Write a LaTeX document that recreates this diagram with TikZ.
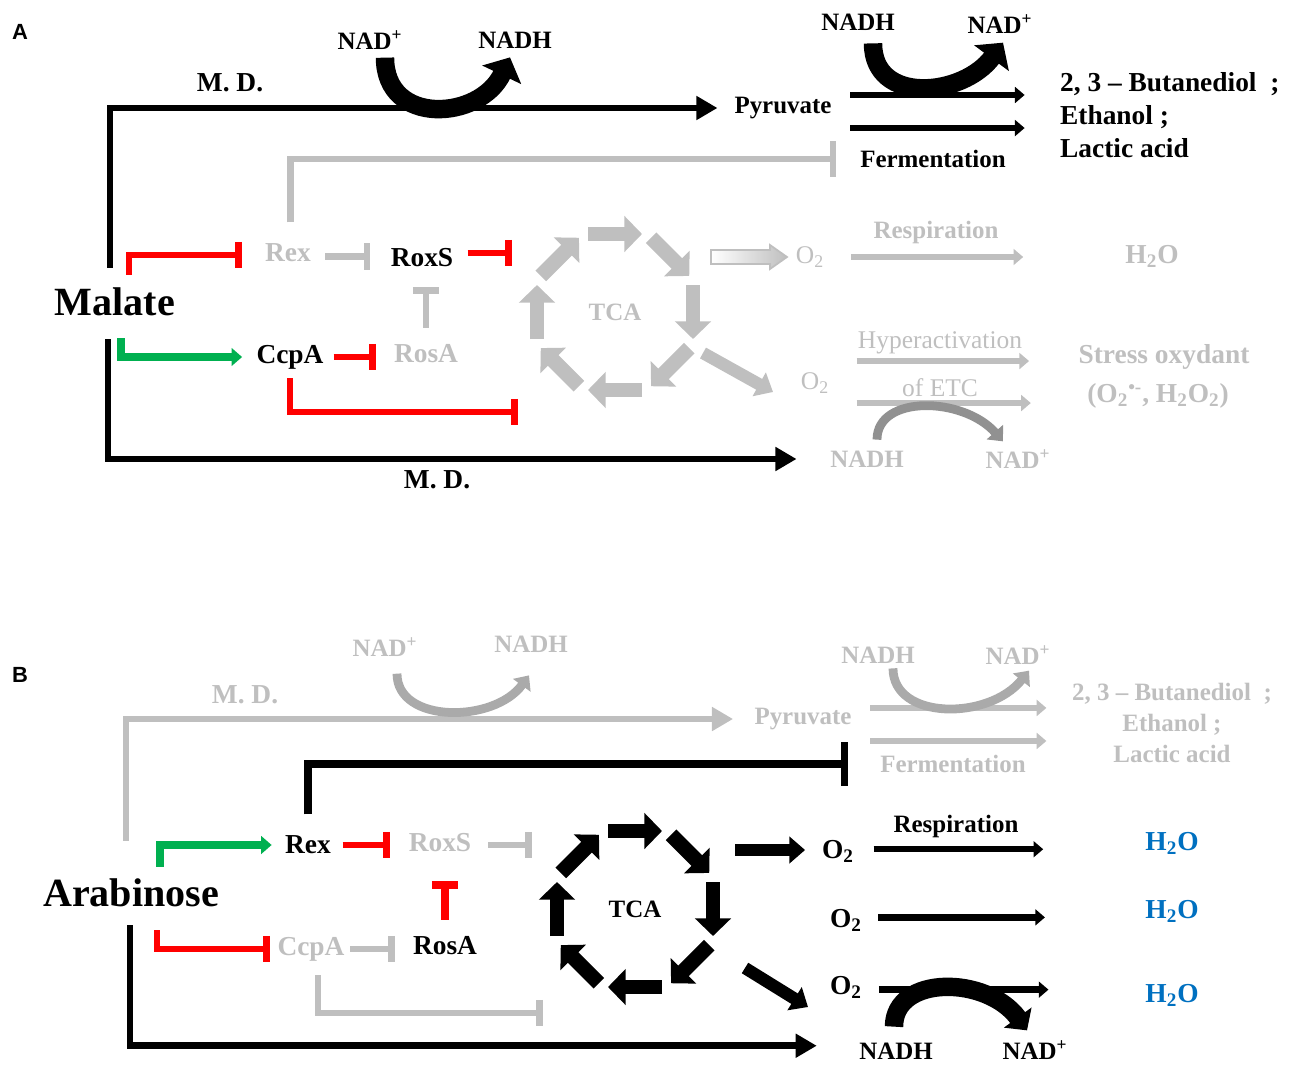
\documentclass[tikz,border=0pt]{standalone}
\usepackage{fontspec}
\setmainfont{Liberation Serif}
\newfontfamily\panelfont{Liberation Sans}
\usepackage{tikz}
\usetikzlibrary{arrows.meta,calc,positioning}
\definecolor{lgray}{RGB}{191,191,191}
\definecolor{mgray}{RGB}{170,170,170}
\definecolor{dgray}{RGB}{145,145,145}
\definecolor{okgreen}{RGB}{0,176,80}
\definecolor{inhred}{RGB}{255,0,0}
\definecolor{h2oblue}{RGB}{0,112,192}
\tikzset{lbl/.style={
            font=\bfseries\fontsize{15.6}{18}\selectfont,
            inner sep=1pt
        },
        sml/.style={
            font=\bfseries\fontsize{14.2}{16}\selectfont,
            inner sep=1pt
        },
        big/.style={
            font=\bfseries\fontsize{22.8}{26}\selectfont,
            inner sep=1pt
        },
        reg/.style={
            font=\fontsize{14.5}{17}\selectfont,
            inner sep=1pt
        },
        panel/.style={
            font=\panelfont\bfseries\fontsize{12.5}{14}\selectfont
        },
        faded/.style={
            text=lgray
        },
        flow/.style={
            line width=3.8pt,
            -{Triangle[width=13pt,length=12pt]}
        },
        thinarr/.style={
            line width=3.6pt,
            -{Triangle[width=9pt,length=5.5pt]}
        },
        act/.style={
            draw=okgreen,
            line width=4.5pt,
            -{Triangle[width=10pt,length=6pt]}
        },
        inh/.style={
            line width=3.8pt,
            -{Bar[width=15pt]}
        },
        ring/.style={
            line width=8.5pt,
            -{Triangle[width=20pt,length=10pt]}
        },
        spoke/.style={
            line width=7pt,
            -{Triangle[width=15pt,length=9pt]}
        },
        curl/.style={
            line width=10.5pt,
            -{Triangle[width=24pt,length=11pt]}
        },
        curlthin/.style={
            line width=5pt,
            -{Triangle[width=12pt,length=7pt]}
        }
    }
\begin{document}
\begin{tikzpicture}[x=0.02cm,y=-0.02cm]
        \useasboundingbox (0,0) rectangle (1290,1064);
        \node[panel] at (20,32) (labA) {A};
        \node[big] at (115,302) (malA) {Malate};
        \node[sml] at (370,40) (nadpA) {NAD\textsuperscript{+}};
        \node[sml] at (515,40) (nadhA) {NADH};
        \node[lbl] at (230,83) (mdA1) {M. D.};
        \node[sml] at (783,108) (pyrA) {Pyruvate};
        \node[sml] at (858,22) (nadhA2) {NADH};
        \node[sml] at (1000,24) (nadpA2) {NAD\textsuperscript{+}};
        \node[lbl, anchor=west, align=left, font=\bfseries\fontsize{15.6}{18.8}\selectfont] at (1058,115) (prodA) {2, 3 -- Butanediol\ \ ;\\Ethanol ;\\Lactic acid};
        \node[sml] at (933,159) (fermA) {Fermentation};
        \node[lbl, faded] at (288,253) (rexA) {Rex};
        \node[lbl] at (422,258) (roxsA) {RoxS};
        \node[lbl] at (290,357) (ccpaA) {CcpA};
        \node[lbl, faded] at (426,354) (rosaA) {RosA};
        \node[sml, faded] at (615,312) (tcaA) {TCA};
        \node[lbl] at (437,480) (mdA2) {M. D.};
        \node[reg, faded] at (810,257) (o2A1) {O\textsubscript{2}};
        \node[sml, faded] at (936,233) (respA) {Respiration};
        \node[lbl, faded] at (1152,256) (h2oA) {H\textsubscript{2}O};
        \node[reg, faded] at (815,383) (o2A2) {O\textsubscript{2}};
        \node[reg, faded] at (940,343) (hypA) {Hyperactivation};
        \node[reg, faded] at (940,388) (etcA) {of ETC};
        \node[sml, faded] at (867,459) (nadhA3) {NADH};
        \node[sml, faded] at (1018,459) (nadpA3) {NAD\textsuperscript{+}};
        \node[lbl, faded] at (1164,357) (stressA) {Stress oxydant};
        \node[lbl, faded] at (1158,396) (rosA) {(O\textsubscript{2}\textsuperscript{\textbullet-}, H\textsubscript{2}O\textsubscript{2})};
        \coordinate (tcaTopA) at (512,253);
        \coordinate (tcaBotA) at (518,412);
        \coordinate (tcaOutA1) at (711,257);
        \coordinate (tcaOutA2) at (703,353);
        \coordinate (o2InA) at (773,392);
        \draw[flow, shorten >=8.5pt] ($(malA.north)+(-5,-18)$) |- (pyrA.west);
        \draw[flow, shorten >=18pt] ($(malA.south)+(-7,21)$) |- (nadhA3.west);
        \draw[inh, draw=inhred] ($(malA.north)+(14,-11)$) |- ($(rexA.west)+(-21,2)$);
        \draw[inh, draw=lgray, shorten <=7pt, shorten >=10.5pt] ([yshift=-2pt]rexA.east) -- ([yshift=-2pt]rexA.east -| roxsA.west);
        \draw[inh, draw=inhred, shorten <=7pt] (roxsA.east |- tcaTopA) -- (tcaTopA);
        \draw[inh, draw=lgray, shorten <=8.5pt, shorten >=10pt] (rosaA.north) -- (rosaA.north |- roxsA.south);
        \draw[act, shorten >=7pt] ($(malA.south)+(6,20)$) |- (ccpaA.west);
        \draw[inh, draw=inhred, shorten <=4.5pt, shorten >=9pt] (ccpaA.east) -- (ccpaA.east -| rosaA.west);
        \draw[inh, draw=inhred, shorten <=4pt] (ccpaA.south) |- (tcaBotA);
        \draw[inh, draw=lgray, shorten <=11pt, shorten >=12.5pt, -{Bar[width=20pt]}] ([xshift=1.5pt]rexA.north) |- (fermA.west);
        \draw[curl] ($(nadpA.south)+(15,6)$) .. controls +(0,69) and +(-30,63) .. ($(nadhA.south)+(-5,7)$);
        \draw[thinarr, shorten <=9.5pt, shorten >=19pt] ([yshift=7.4pt]pyrA.east) -- ([yshift=7.4pt]pyrA.east -| prodA.west);
        \draw[thinarr, shorten <=9.5pt, shorten >=19pt] ([yshift=-11.4pt]pyrA.east) -- ([yshift=-11.4pt]pyrA.east -| prodA.west);
        \draw[curl] ($(nadhA2.south)+(15,11)$) .. controls +(0,62) and +(-40,54) .. ($(nadpA2.south)+(3,7)$);
        \foreach \a in {180,225,...,495}
            \draw[ring, draw=lgray] ($(tcaA)+(\a:78)+({\a-90}:27)$) -- ($(tcaA)+(\a:78)+({\a+90}:27)$);
        \shadedraw[left color=white, right color=lgray, draw=lgray, line width=1pt] (tcaOutA1) ++(0,-7) -- ++(59,0) -- ++(0,-5) -- ++(17,12) -- ++(-17,12) -- ++(0,-5) -- ++(-59,0) -- cycle;
        \draw[spoke, draw=lgray] (tcaOutA2) -- (o2InA);
        \draw[thinarr, draw=lgray, shorten <=14pt, shorten >=57pt] (o2A1.east) -- (o2A1.east -| h2oA.west);
        \draw[thinarr, draw=lgray, shorten <=14.5pt, shorten >=27pt] ([yshift=12.5pt]o2A2.east) -- ([yshift=12.5pt]o2A2.east -| stressA.west);
        \draw[thinarr, draw=lgray, shorten <=14.5pt, shorten >=26pt] ([yshift=-11.4pt]o2A2.east) -- ([yshift=-11.4pt]o2A2.east -| stressA.west);
        \draw[curlthin, draw=dgray] ($(nadhA3.north)+(10,-9)$) .. controls +(0,-45) and +(-40,-45) .. ($(nadpA3.north)+(-15,-6)$);
        \node[panel] at (20,675) (labB) {B};
        \node[big] at (131,893) (arabB) {Arabinose};
        \node[sml, faded] at (385,647) (nadpB) {NAD\textsuperscript{+}};
        \node[sml, faded] at (531,644) (nadhB) {NADH};
        \node[lbl, faded] at (245,695) (mdB) {M. D.};
        \node[sml, faded] at (803,719) (pyrB) {Pyruvate};
        \node[sml, faded] at (878,655) (nadhB2) {NADH};
        \node[sml, faded] at (1018,655) (nadpB2) {NAD\textsuperscript{+}};
        \node[sml, faded, align=center, font=\bfseries\fontsize{14.2}{17.4}\selectfont] at (1172,723) (prodB) {2, 3 -- Butanediol\ \ ;\\Ethanol ;\\Lactic acid};
        \node[sml, faded] at (953,764) (fermB) {Fermentation};
        \node[lbl] at (308,845) (rexB) {Rex};
        \node[lbl, faded] at (440,843) (roxsB) {RoxS};
        \node[lbl, faded] at (311,949) (ccpaB) {CcpA};
        \node[lbl] at (445,946) (rosaB) {RosA};
        \node[sml] at (635,909) (tcaB) {TCA};
        \node[lbl] at (838,851) (o2B1) {O\textsubscript{2}};
        \node[lbl] at (846,920) (o2B2) {O\textsubscript{2}};
        \node[lbl] at (846,987) (o2B3) {O\textsubscript{2}};
        \node[sml] at (956,826) (respB) {Respiration};
        \node[lbl, text=h2oblue] at (1172,843) (h2oB1) {H\textsubscript{2}O};
        \node[lbl, text=h2oblue] at (1172,911) (h2oB2) {H\textsubscript{2}O};
        \node[lbl, text=h2oblue] at (1172,995) (h2oB3) {H\textsubscript{2}O};
        \node[sml] at (896,1051) (nadhB3) {NADH};
        \node[sml] at (1035,1050) (nadpB3) {NAD\textsuperscript{+}};
        \coordinate (tcaTopB) at (532,845);
        \coordinate (tcaBotB) at (543,1013);
        \coordinate (tcaOutB1) at (735,850);
        \coordinate (tcaOutB2) at (745,968);
        \coordinate (o2InB) at (808,1007);
        \draw[flow, draw=lgray, shorten >=11pt] ($(arabB.north)+(-5,-36)$) |- (pyrB.west);
        \draw[flow, shorten >=23pt] ($(arabB.south)+(-1,16)$) |- ([yshift=3pt]nadhB3.west);
        \draw[act, shorten >=6.5pt] ($(arabB.north)+(29,-10)$) |- (rexB.west);
        \draw[inh, draw=inhred] ($(arabB.south)+(26,21)$) |- ([xshift=-3pt]ccpaB.west);
        \draw[inh, line width=4.3pt, shorten <=11pt, shorten >=17pt, -{Bar[width=25pt]}] (rexB.north) |- (fermB.west);
        \draw[inh, draw=inhred, shorten <=5.5pt, shorten >=9.5pt] (rexB.east) -- (rexB.east -| roxsB.west);
        \draw[inh, draw=lgray, shorten <=8.5pt] (roxsB.east |- tcaTopB) -- (tcaTopB);
        \draw[inh, draw=inhred, line width=4.5pt, shorten <=8.5pt, shorten >=15pt] (rosaB.north) -- (rosaB.north |- roxsB.south);
        \draw[inh, draw=lgray, shorten <=2pt, shorten >=9pt] (ccpaB.east) -- (ccpaB.east -| rosaB.west);
        \draw[inh, draw=lgray, shorten <=7pt] ([xshift=4pt]ccpaB.south) |- (tcaBotB);
        \draw[curlthin, draw=mgray] ($(nadpB.south)+(12,15)$) .. controls +(0,50) and +(-35,48) .. ($(nadhB.south)+(-2,21)$);
        \draw[thinarr, draw=lgray, shorten <=9.5pt, shorten >=13.5pt] ([yshift=6.3pt]pyrB.east) -- ([yshift=6.3pt]pyrB.east -| prodB.west);
        \draw[thinarr, draw=lgray, shorten <=9.5pt, shorten >=13.5pt] ([yshift=-12.5pt]pyrB.east) -- ([yshift=-12.5pt]pyrB.east -| prodB.west);
        \draw[curlthin, draw=mgray] ($(nadhB2.south)+(15,3)$) .. controls +(0,52) and +(-40,50) .. ($(nadpB2.south)+(11,4)$);
        \foreach \a in {180,225,...,495}
            \draw[ring] ($(tcaB)+(\a:78)+({\a-90}:27)$) -- ($(tcaB)+(\a:78)+({\a+90}:27)$);
        \draw[spoke, shorten >=8.5pt] (tcaOutB1) -- (tcaOutB1 -| o2B1.west);
        \draw[spoke] (tcaOutB2) -- (o2InB);
        \draw[thinarr, shorten <=10pt, shorten >=57pt] ([yshift=1pt]o2B1.east) -- ([yshift=1pt]o2B1.east -| h2oB1.west);
        \draw[thinarr, shorten <=8pt, shorten >=56pt] ([yshift=1.5pt]o2B2.east) -- ([yshift=1.5pt]o2B2.east -| h2oB2.west);
        \draw[thinarr, shorten <=8.5pt, shorten >=54pt] ([yshift=-1.5pt]o2B3.east) -- ([yshift=-1.5pt]o2B3.east -| h2oB3.west);
        \draw[curl, -{Triangle[width=19pt,length=9pt]}] ($(nadhB3.north)+(-2,-14)$) .. controls +(0,-52) and +(-40,-55) .. ($(nadpB3.north)+(-8,-8)$);
    \end{tikzpicture}
\end{document}
